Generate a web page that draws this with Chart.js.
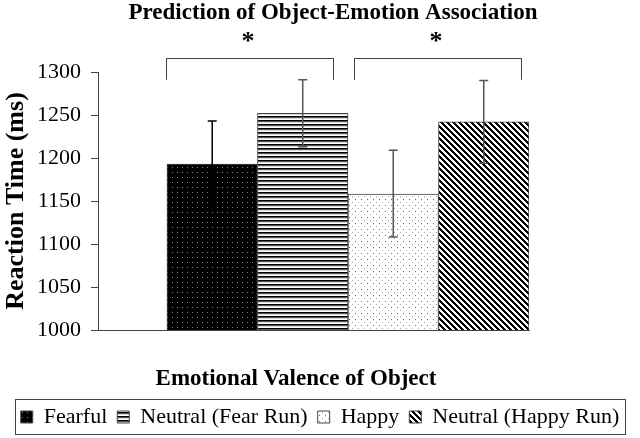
<!DOCTYPE html>
<html>
<head>
<meta charset="utf-8">
<script src="https://cdn.jsdelivr.net/npm/chart.js@4.4.0/dist/chart.umd.min.js"></script>
<style>
  html, body { margin: 0; padding: 0; background: #fff; }
  #wrap { width: 640px; height: 438px; }
</style>
</head>
<body>
<div id="wrap"><canvas id="chart"></canvas></div>
<script>
// bar names, in the order they are drawn (also the legend order)
const categories = ["Fearful", "Neutral (Fear Run)", "Happy", "Neutral (Happy Run)"];
// where each bar sits on the x scale
const barPos = [1, 2, 3, 4];
// mean reaction time in ms
const meanRT = [1193, 1252, 1158, 1242];
// error bar ends in ms
const errLow = [1143, 1213, 1108, 1194];
const errHigh = [1243, 1291, 1209, 1290];
// y axis range and step
const yMin = 1000;
const yMax = 1300;
const yStep = 50;
// significance brackets: x from / to in bar units, heights in ms
const bracketFrom = [0.49, 2.57];
const bracketTo = [2.33, 4.41];
const bracketTop = 1316;
const bracketFoot = 1291;
const starLevel = 1341;

const chartTitle = "Prediction of Object-Emotion Association";
const xTitle = "Emotional Valence of Object";
const yTitle = "Reaction Time (ms)";

const SERIF = "'Liberation Serif', 'Times New Roman', serif";

const canvas = document.getElementById("chart");
const mainCtx = canvas.getContext("2d");

// small tiles that get repeated as bar fills
function makePattern(size, paint) {
	const c = document.createElement("canvas");
	c.width = size;
	c.height = size;
	const g = c.getContext("2d");
	paint(g);
	return mainCtx.createPattern(c, "repeat");
}

// black with grey specks
const fearfulFill = makePattern(5, g => {
	g.fillStyle = "#000";
	g.fillRect(0, 0, 5, 5);
	g.fillStyle = "#8a8a8a";
	g.fillRect(2, 2, 1, 1);
});

// horizontal lines
const stripeFill = makePattern(4, g => {
	const rows = ["#000", "#555", "#d8d8d8", "#fff"];
	rows.forEach((col, r) => {
		g.fillStyle = col;
		g.fillRect(0, r, 4, 1);
	});
});

// white with sparse dots
const dotFill = makePattern(6, g => {
	g.fillStyle = "#fff";
	g.fillRect(0, 0, 6, 6);
	g.fillStyle = "#666";
	g.fillRect(1, 1, 1, 1);
	g.fillStyle = "#aaa";
	g.fillRect(4, 4, 1, 1);
});

// diagonal lines going down to the right
const diagFill = makePattern(6, g => {
	g.fillStyle = "#fff";
	g.fillRect(0, 0, 6, 6);
	g.fillStyle = "#000";
	for (let r = 0; r < 6; r++) {
		for (let k = 0; k < 3; k++) g.fillRect((r + k) % 6, r, 1, 1);
	}
});

const fills = [fearfulFill, stripeFill, dotFill, diagFill];

// error bars, significance brackets and the free text
const extras = {
	id: "extras",
	afterDatasetsDraw(chart) {
		const ctx = chart.ctx;
		const x = chart.scales.x;
		const y = chart.scales.y;
		ctx.save();
		ctx.lineWidth = 1.5;
		for (let i = 0; i < barPos.length; i++) {
			const px = x.getPixelForValue(barPos[i]);
			const top = y.getPixelForValue(errHigh[i]);
			const bot = y.getPixelForValue(errLow[i]);
			ctx.strokeStyle = i == 0 ? "#000" : "#555";
			ctx.beginPath();
			ctx.moveTo(px, top);
			ctx.lineTo(px, bot);
			ctx.moveTo(px - 4.5, top);
			ctx.lineTo(px + 4.5, top);
			ctx.moveTo(px - 4.5, bot);
			ctx.lineTo(px + 4.5, bot);
			ctx.stroke();
		}
		ctx.restore();
	},
	afterDraw(chart) {
		const ctx = chart.ctx;
		const x = chart.scales.x;
		const y = chart.scales.y;
		ctx.save();

		// brackets with stars
		ctx.strokeStyle = "#444";
		ctx.lineWidth = 1;
		ctx.fillStyle = "#000";
		ctx.textAlign = "center";
		ctx.textBaseline = "alphabetic";
		ctx.font = "bold 26px " + SERIF;
		for (let i = 0; i < bracketFrom.length; i++) {
			const x1 = Math.round(x.getPixelForValue(bracketFrom[i])) + 0.5;
			const x2 = Math.round(x.getPixelForValue(bracketTo[i])) + 0.5;
			const yt = Math.round(y.getPixelForValue(bracketTop)) + 0.5;
			const yb = y.getPixelForValue(bracketFoot);
			ctx.beginPath();
			ctx.moveTo(x1, yb);
			ctx.lineTo(x1, yt);
			ctx.lineTo(x2, yt);
			ctx.lineTo(x2, yb);
			ctx.stroke();
			ctx.fillText("*", (x1 + x2) / 2 - 2, y.getPixelForValue(starLevel) + 12);
		}

		// chart title and x axis title
		ctx.font = "bold 23px " + SERIF;
		ctx.fillText(chartTitle, 333, 19);
		ctx.fillText(xTitle, 296, 385);

		// frame round the legend
		const boxes = chart.legend.legendHitBoxes;
		let left = Infinity, right = -Infinity;
		boxes.forEach(b => {
			left = Math.min(left, b.left);
			right = Math.max(right, b.left + b.width);
		});
		const top = boxes[0].top;
		ctx.strokeStyle = "#444";
		ctx.strokeRect(Math.round(left - 6) + 0.5, Math.round(top - 7) + 0.5,
			Math.round(right - left + 11), Math.round(boxes[0].height + 13));
		ctx.restore();
	}
};

Chart.defaults.font.family = SERIF;
Chart.defaults.color = "#000";

new Chart(canvas, {
	type: "bar",
	data: {
		datasets: categories.map((name, i) => ({
			label: name,
			data: [{ x: barPos[i], y: meanRT[i] }],
			backgroundColor: fills[i],
			borderColor: "#444",
			borderWidth: 1,
			grouped: false,
			barPercentage: 1,
			categoryPercentage: 1
		}))
	},
	options: {
		responsive: true,
		maintainAspectRatio: false,
		animation: false,
		devicePixelRatio: 1,
		layout: { padding: { top: 72, left: 0, right: 0, bottom: 0 } },
		plugins: {
			tooltip: { enabled: false },
			title: { display: false },
			legend: {
				position: "bottom",
				labels: {
					font: { size: 22 },
					boxWidth: 12,
					boxHeight: 12,
					padding: 10,
					color: "#000"
				}
			}
		},
		scales: {
			x: {
				type: "linear",
				position: "bottom",
				offset: false,
				min: -0.262,
				max: 4.5,
				afterBuildTicks: s => { s.ticks = barPos.map(v => ({ value: v })); },
				afterFit: s => { s.height = 66; },
				ticks: { display: false },
				grid: { display: false, offset: false },
				border: { display: true, color: "#444", width: 1 }
			},
			y: {
				position: "left",
				min: yMin,
				max: yMax,
				afterFit: s => { s.width = 98; },
				ticks: {
					stepSize: yStep,
					padding: 10,
					font: { size: 22 },
					color: "#000",
					callback: v => String(v)
				},
				grid: {
					drawOnChartArea: false,
					drawTicks: true,
					tickLength: 7,
					color: "#444"
				},
				border: { display: true, color: "#444", width: 1 },
				title: {
					display: true,
					text: yTitle,
					font: { size: 26, weight: "bold" },
					padding: { top: 1, bottom: 0 },
					color: "#000"
				}
			},
			// empty scale on the right, only keeps the plot area narrow
			yPad: {
				position: "right",
				display: true,
				afterFit: s => { s.width = 111; },
				ticks: { display: false },
				grid: { display: false },
				border: { display: false }
			}
		}
	},
	plugins: [extras]
});
</script>
</body>
</html>
